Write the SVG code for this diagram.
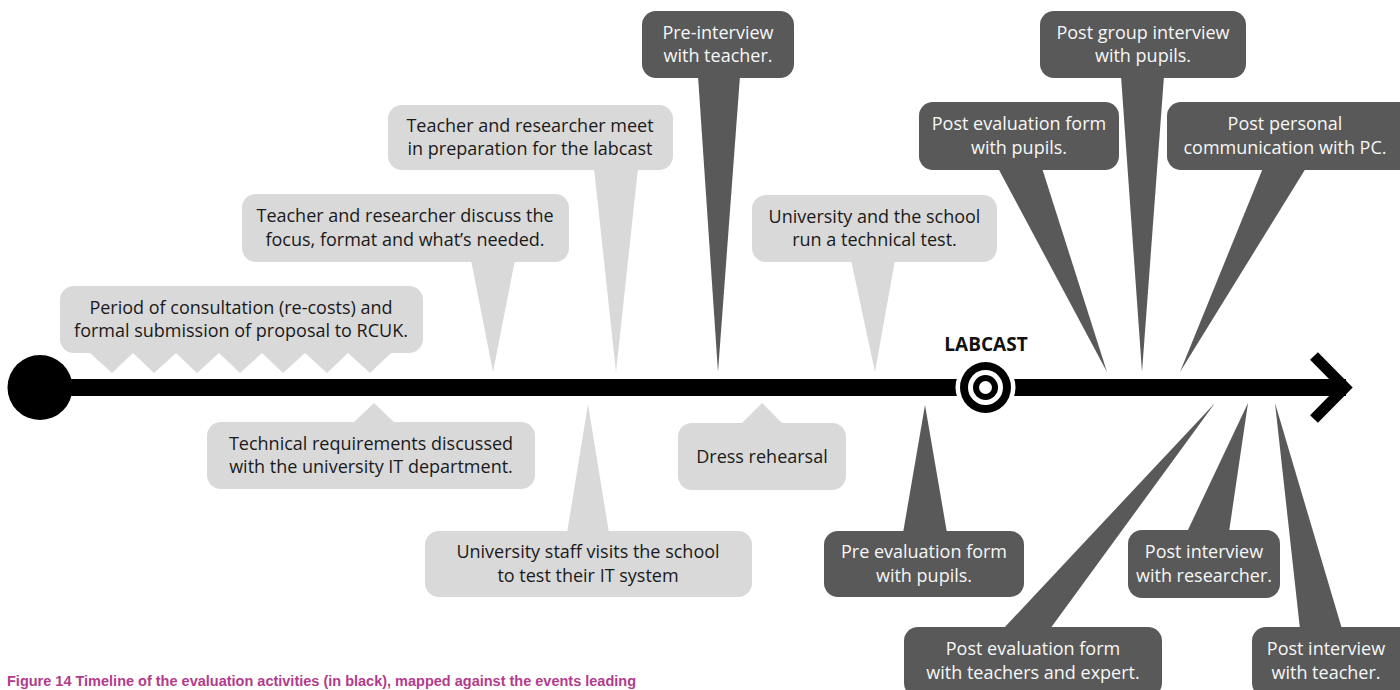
<svg xmlns="http://www.w3.org/2000/svg" width="1400" height="690" viewBox="0 0 1400 690">
<style>
.lt{fill:#d9d9d9}
.dk{fill:#595959}
.t{font-family:"Open Sans","Noto Sans","DejaVu Sans",sans-serif;font-size:18px;text-anchor:middle}
.tl{fill:#1a1a1a}
.td{fill:#f7f7f7}
.lab{font-family:"Open Sans","Noto Sans",sans-serif;font-size:19px;font-weight:bold;text-anchor:middle;fill:#111}
.cap{font-family:"Liberation Sans",Arial,sans-serif;font-size:14.5px;font-weight:bold;fill:#b23b8c}
</style>
<rect width="1400" height="690" fill="#fff"/>

<g id="connectors">
  <polygon class="lt" points="352,424 396,424 374,403"/>
  <polygon class="lt" points="471,260 515,260 493,372"/>
  <polygon class="lt" points="594,168 638,168 616,372"/>
  <polygon class="lt" points="567,533 609,533 588,404"/>
  <polygon class="lt" points="740,425 784,425 762,403"/>
  <polygon class="lt" points="851,260 895,260 875,372"/>
  <polygon class="dk" points="698,76 740,76 718,372"/>
  <polygon class="dk" points="1121,76 1164,76 1142,372"/>
  <polygon class="dk" points="998,168 1042,168 1107,372"/>
  <polygon class="dk" points="1263,168 1306,168 1180,372"/>
  <polygon class="dk" points="903,533 947,533 925,405"/>
  <polygon class="dk" points="1003,629 1050,629 1215,403"/>
  <polygon class="dk" points="1187,532 1229,532 1248,403"/>
  <polygon class="dk" points="1300,629 1342,629 1275,403"/>
</g>

<g id="timeline">
  <rect x="40" y="379" width="1306" height="17" fill="#000"/>
  <circle cx="40" cy="387.5" r="32.5" fill="#000"/>
  <polyline points="1314,356 1345,387.5 1314,419" fill="none" stroke="#000" stroke-width="11" stroke-linejoin="miter"/>
</g>

<g id="labcast">
  <circle cx="985.5" cy="387.5" r="30" fill="#fff"/>
  <circle cx="985.5" cy="387.5" r="25.5" fill="#000"/>
  <circle cx="985.5" cy="387.5" r="17.5" fill="#fff"/>
  <circle cx="985.5" cy="387.5" r="12.5" fill="#000"/>
  <circle cx="985.5" cy="387.5" r="6.5" fill="#fff"/>
  <text class="lab" x="986" y="351">LABCAST</text>
</g>

<g id="n-period">
  <path class="lt" d="M74,286 H409 A14,14 0 0 1 423,300 V339 A14,14 0 0 1 409,353 H391 L370,373 L348,353 L327,373 L305,353 L283,373 L262,353 L240,373 L219,353 L197,373 L176,353 L154,373 L133,353 L112,373 L90,353 H74 A14,14 0 0 1 60,339 V300 A14,14 0 0 1 74,286 Z"/>
  <text class="t tl" x="241" y="313.5">Period of consultation (re-costs) and</text>
  <text class="t tl" x="241" y="337">formal submission of proposal to RCUK.</text>
</g>

<g id="n-technical">
  <rect class="lt" x="207" y="422" width="328" height="67" rx="14"/>
  <text class="t tl" x="371" y="449.5">Technical requirements discussed</text>
  <text class="t tl" x="371" y="473">with the university IT department.</text>
</g>

<g id="n-discuss">
  <rect class="lt" x="242" y="194" width="327" height="68" rx="14"/>
  <text class="t tl" x="405" y="222">Teacher and researcher discuss the</text>
  <text class="t tl" x="405" y="245.5">focus, format and what’s needed.</text>
</g>

<g id="n-meet">
  <rect class="lt" x="388" y="105" width="285" height="65" rx="14"/>
  <text class="t tl" x="530" y="131.5">Teacher and researcher meet</text>
  <text class="t tl" x="530" y="155">in preparation for the labcast</text>
</g>

<g id="n-visit">
  <rect class="lt" x="425" y="531" width="327" height="66" rx="14"/>
  <text class="t tl" x="588" y="558">University staff visits the school</text>
  <text class="t tl" x="588" y="581.5">to test their IT system</text>
</g>

<g id="n-dress">
  <rect class="lt" x="678" y="423" width="168" height="67" rx="14"/>
  <text class="t tl" x="762" y="463">Dress rehearsal</text>
</g>

<g id="n-techtest">
  <rect class="lt" x="752" y="195" width="245" height="67" rx="14"/>
  <text class="t tl" x="874.5" y="222.5">University and the school</text>
  <text class="t tl" x="874.5" y="246">run a technical test.</text>
</g>

<g id="n-preinterview">
  <rect class="dk" x="642" y="11" width="152" height="67" rx="14"/>
  <text class="t td" x="718" y="38.5">Pre-interview</text>
  <text class="t td" x="718" y="62">with teacher.</text>
</g>

<g id="n-postgroup">
  <rect class="dk" x="1040" y="11" width="206" height="67" rx="14"/>
  <text class="t td" x="1143" y="38.5">Post group interview</text>
  <text class="t td" x="1143" y="62">with pupils.</text>
</g>

<g id="n-postevalpupils">
  <rect class="dk" x="919" y="102" width="200" height="68" rx="14"/>
  <text class="t td" x="1019" y="130">Post evaluation form</text>
  <text class="t td" x="1019" y="153.5">with pupils.</text>
</g>

<g id="n-postpersonal">
  <rect class="dk" x="1167" y="102" width="247" height="68" rx="14"/>
  <text class="t td" x="1285" y="130">Post personal</text>
  <text class="t td" x="1285" y="153.5">communication with PC.</text>
</g>

<g id="n-preeval">
  <rect class="dk" x="824" y="531" width="200" height="66" rx="14"/>
  <text class="t td" x="924" y="558">Pre evaluation form</text>
  <text class="t td" x="924" y="581.5">with pupils.</text>
</g>

<g id="n-postevalteachers">
  <rect class="dk" x="904" y="627" width="258" height="70" rx="14"/>
  <text class="t td" x="1033" y="655">Post evaluation form</text>
  <text class="t td" x="1033" y="678.5">with teachers and expert.</text>
</g>

<g id="n-postresearcher">
  <rect class="dk" x="1128" y="530" width="152" height="68" rx="14"/>
  <text class="t td" x="1204" y="558">Post interview</text>
  <text class="t td" x="1204" y="581.5">with researcher.</text>
</g>

<g id="n-postteacher">
  <rect class="dk" x="1252" y="627" width="162" height="70" rx="14"/>
  <text class="t td" x="1326" y="655">Post interview</text>
  <text class="t td" x="1326" y="678.5">with teacher.</text>
</g>

<text class="cap" x="7" y="686">Figure 14 Timeline of the evaluation activities (in black), mapped against the events leading</text>
</svg>
